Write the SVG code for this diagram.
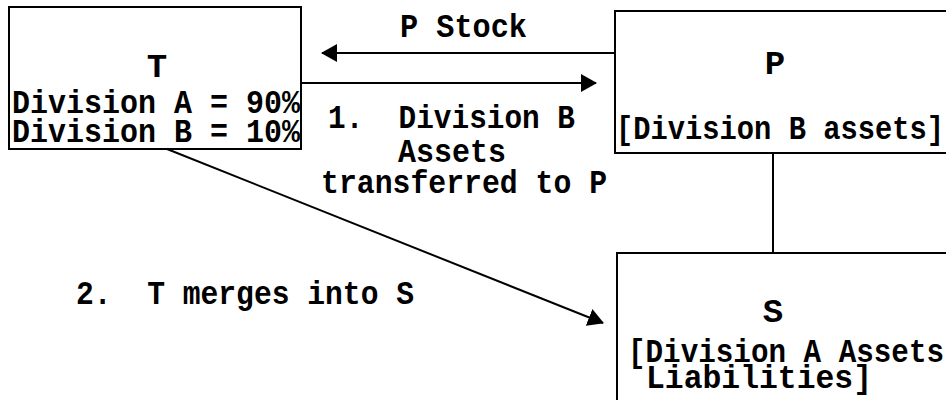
<svg xmlns="http://www.w3.org/2000/svg" width="946" height="400" viewBox="0 0 946 400">
  <defs>
    <style>
      .box { fill: #ffffff; stroke: #000000; stroke-width: 2; }
      .edge { fill: none; stroke: #000000; stroke-width: 2; }
      .t { font-family: "Liberation Mono", "DejaVu Sans Mono", monospace; font-weight: bold; font-size: 34px; fill: #000000; }
      .c { text-anchor: middle; }
    </style>
    <marker id="arrow" viewBox="0 0 16 18" refX="15" refY="9" markerWidth="16" markerHeight="18" markerUnits="userSpaceOnUse" orient="auto">
      <path d="M0,0 L16,9 L0,18 z" fill="#000000"/>
    </marker>
  </defs>
  <rect width="946" height="400" fill="#ffffff"/>

  <g id="connectors">
    <line class="edge" x1="615" y1="53" x2="322" y2="53" marker-end="url(#arrow)"/>
    <line class="edge" x1="301" y1="83" x2="596" y2="83" marker-end="url(#arrow)"/>
    <line class="edge" x1="167" y1="149" x2="603" y2="323" marker-end="url(#arrow)"/>
    <line class="edge" x1="773" y1="153" x2="773" y2="253"/>
    <text class="t" x="400" y="37" textLength="127" lengthAdjust="spacingAndGlyphs">P Stock</text>
    <text class="t" x="328" y="128" textLength="247" lengthAdjust="spacingAndGlyphs" xml:space="preserve">1.  Division B</text>
    <text class="t" x="398" y="162" textLength="108" lengthAdjust="spacingAndGlyphs">Assets</text>
    <text class="t" x="321" y="193" textLength="286" lengthAdjust="spacingAndGlyphs">transferred to P</text>
    <text class="t" x="76" y="304" textLength="338" lengthAdjust="spacingAndGlyphs" xml:space="preserve">2.  T merges into S</text>
  </g>

  <g id="node-T">
    <rect class="box" x="9" y="7" width="292" height="142"/>
    <text class="t c" x="157" y="77">T</text>
    <text class="t" x="12" y="113" textLength="288" lengthAdjust="spacingAndGlyphs">Division A = 90%</text>
    <text class="t" x="12" y="142" textLength="288" lengthAdjust="spacingAndGlyphs">Division B = 10%</text>
  </g>

  <g id="node-P">
    <rect class="box" x="615" y="11" width="340" height="142"/>
    <text class="t c" x="775" y="74">P</text>
    <text class="t" x="616" y="139" textLength="328" lengthAdjust="spacingAndGlyphs">[Division B assets]</text>
  </g>

  <g id="node-S">
    <rect class="box" x="617" y="253" width="340" height="160"/>
    <text class="t c" x="773" y="322">S</text>
    <text class="t" x="628" y="362" textLength="316" lengthAdjust="spacingAndGlyphs">[Division A Assets</text>
    <text class="t" x="646" y="388" textLength="226" lengthAdjust="spacingAndGlyphs">Liabilities]</text>
  </g>
</svg>
